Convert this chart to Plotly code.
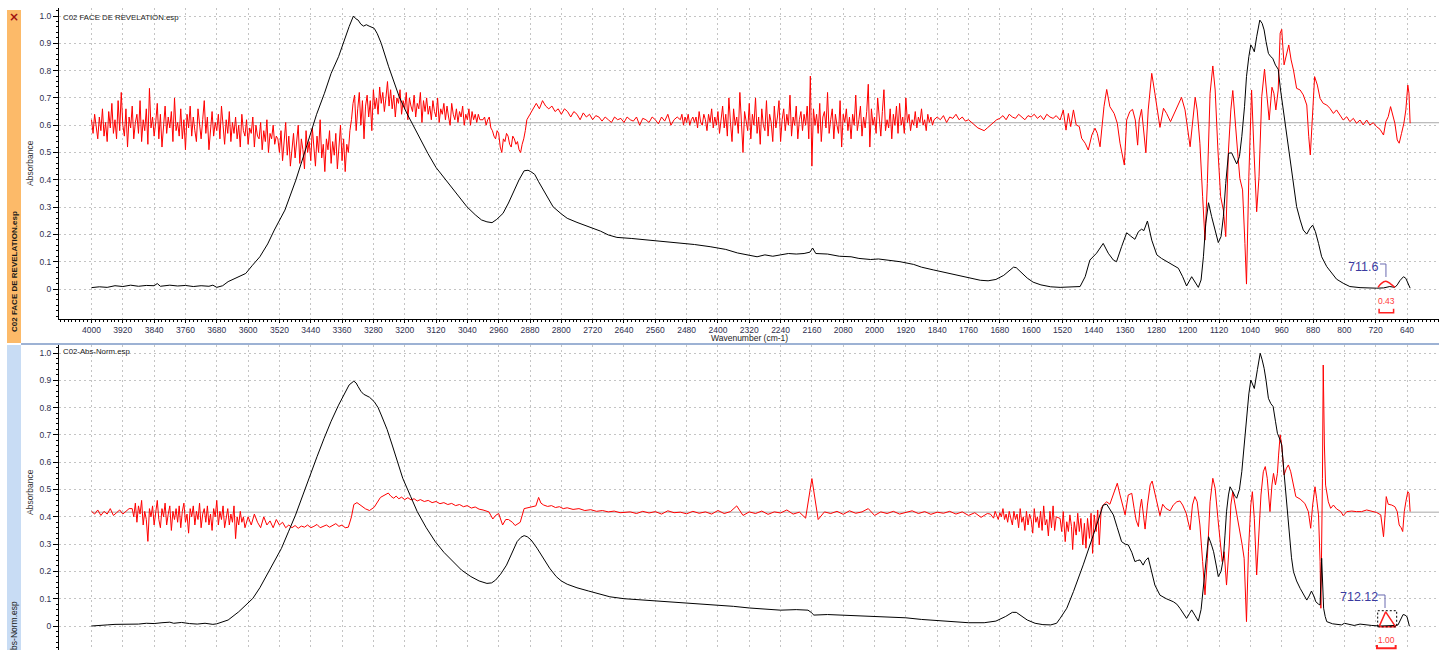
import numpy as np
import plotly.graph_objects as go

W, H = 1439, 650

# ---------------- text / ticks ----------------
panel_titles = ["C02 FACE DE REVELATION.esp", "C02-Abs-Norm.esp"]
side_titles = ["C02 FACE DE REVELATION.esp", "C02-Abs-Norm.esp"]
x_title = "Wavenumber (cm-1)"
y_title = "Absorbance"
y_tick_vals = [0, 0.1, 0.2, 0.3, 0.4, 0.5, 0.6, 0.7, 0.8, 0.9, 1.0]
y_tick_text = ["0", "0.1", "0.2", "0.3", "0.4", "0.5", "0.6", "0.7", "0.8", "0.9", "1.0"]
x_tick_vals = [4000, 3920, 3840, 3760, 3680, 3600, 3520, 3440, 3360, 3280, 3200, 3120, 3040,
               2960, 2880, 2800, 2720, 2640, 2560, 2480, 2400, 2320, 2240, 2160, 2080, 2000,
               1920, 1840, 1760, 1680, 1600, 1520, 1440, 1360, 1280, 1200, 1120, 1040, 960,
               880, 800, 720, 640]
x_tick_text = [str(v) for v in x_tick_vals]
peak_labels = ["711.6", "712.12"]
area_labels = ["0.43", "1.00"]

# ---------------- top panel: absorbance spectrum (wavenumber, absorbance) ----------------
top_abs = [
    (4000, 0.005), (3980, 0.008), (3960, 0.006), (3940, 0.012), (3920, 0.009), (3900, 0.014),
    (3880, 0.010), (3860, 0.013), (3840, 0.012), (3832, 0.020), (3824, 0.010), (3800, 0.014),
    (3780, 0.011), (3760, 0.013), (3740, 0.009), (3720, 0.012), (3700, 0.010), (3690, 0.014),
    (3680, 0.006), (3665, 0.012), (3651, 0.027), (3630, 0.040), (3606, 0.057), (3590, 0.085),
    (3570, 0.118), (3550, 0.165), (3533, 0.216), (3506, 0.289), (3478, 0.399), (3460, 0.480),
    (3442, 0.558), (3425, 0.640), (3405, 0.717), (3388, 0.790), (3369, 0.851), (3355, 0.910),
    (3342, 0.961), (3331, 1.000), (3325, 0.990), (3319, 0.985), (3312, 0.970), (3305, 0.963),
    (3298, 0.968), (3291, 0.963), (3285, 0.960), (3278, 0.955), (3270, 0.935), (3260, 0.900),
    (3241, 0.814), (3214, 0.704), (3195, 0.645), (3177, 0.595), (3160, 0.545), (3141, 0.497),
    (3120, 0.445), (3095, 0.399), (3070, 0.350), (3041, 0.301), (3020, 0.272), (3004, 0.253),
    (2990, 0.246), (2977, 0.243), (2965, 0.255), (2949, 0.277), (2935, 0.315), (2922, 0.357),
    (2908, 0.400), (2895, 0.433), (2885, 0.435), (2878, 0.430), (2868, 0.420), (2858, 0.393),
    (2840, 0.350), (2821, 0.301), (2800, 0.275), (2785, 0.259), (2760, 0.244), (2730, 0.228),
    (2700, 0.212), (2680, 0.198), (2658, 0.189), (2620, 0.185), (2580, 0.180), (2540, 0.175),
    (2500, 0.170), (2460, 0.163), (2420, 0.155), (2380, 0.145), (2350, 0.132), (2320, 0.122),
    (2300, 0.118), (2280, 0.125), (2260, 0.120), (2240, 0.125), (2220, 0.130), (2200, 0.128),
    (2180, 0.130), (2165, 0.135), (2158, 0.150), (2150, 0.130), (2120, 0.128), (2090, 0.120),
    (2060, 0.118), (2040, 0.112), (2010, 0.108), (1990, 0.110), (1960, 0.104), (1935, 0.100),
    (1900, 0.090), (1880, 0.080), (1850, 0.070), (1820, 0.060), (1790, 0.050), (1760, 0.040),
    (1730, 0.032), (1710, 0.030), (1690, 0.035), (1670, 0.050), (1655, 0.070), (1645, 0.080),
    (1638, 0.078), (1625, 0.060), (1610, 0.040), (1595, 0.025), (1575, 0.015), (1550, 0.008),
    (1526, 0.006), (1475, 0.009), (1462, 0.045), (1450, 0.106), (1433, 0.131), (1416, 0.167),
    (1403, 0.131), (1390, 0.106), (1382, 0.100), (1369, 0.155), (1356, 0.206), (1346, 0.194),
    (1335, 0.182), (1326, 0.210), (1318, 0.219), (1312, 0.214), (1303, 0.249), (1292, 0.179),
    (1279, 0.125), (1267, 0.112), (1245, 0.094), (1233, 0.084), (1224, 0.076), (1213, 0.045),
    (1203, 0.011), (1190, 0.045), (1182, 0.027), (1173, 0.006), (1166, 0.033), (1160, 0.118),
    (1154, 0.241), (1147, 0.316), (1139, 0.265), (1130, 0.216), (1122, 0.170), (1115, 0.192),
    (1109, 0.265), (1103, 0.387), (1096, 0.497), (1088, 0.499), (1082, 0.479), (1075, 0.458),
    (1068, 0.485), (1062, 0.558), (1055, 0.668), (1050, 0.778), (1044, 0.851), (1039, 0.894),
    (1034, 0.882), (1030, 0.869), (1024, 0.924), (1016, 0.985), (1010, 0.973), (1005, 0.949),
    (1000, 0.906), (994, 0.863), (988, 0.851), (983, 0.845), (976, 0.820), (969, 0.805),
    (963, 0.729), (956, 0.656), (947, 0.558), (939, 0.473), (930, 0.375), (922, 0.302),
    (913, 0.253), (905, 0.216), (896, 0.201), (888, 0.222), (881, 0.234), (874, 0.210),
    (866, 0.167), (858, 0.118), (845, 0.082), (832, 0.057), (820, 0.036), (803, 0.021),
    (786, 0.009), (760, 0.005), (735, 0.003), (718, 0.003), (700, 0.004), (684, 0.009),
    (671, 0.006), (665, 0.015), (658, 0.031), (649, 0.045), (643, 0.039), (637, 0.015),
    (632, 0.003),
]

# top panel: derivative trace, evenly sampled stretches (start wavenumber, step, values)
top_red_a = [0.62, 0.57, 0.64, 0.59, 0.55, 0.63, 0.58, 0.66, 0.56, 0.61,
             0.54, 0.65, 0.59, 0.68, 0.57, 0.62, 0.55, 0.69, 0.58, 0.72,
             0.60, 0.56, 0.66, 0.52, 0.63, 0.59, 0.67, 0.55, 0.61, 0.64,
             0.57, 0.69, 0.54, 0.62, 0.58, 0.66, 0.53, 0.735, 0.59, 0.63,
             0.56, 0.61, 0.68, 0.55, 0.64, 0.52, 0.60, 0.67, 0.57, 0.63,
             0.59, 0.65, 0.54, 0.70, 0.58, 0.61, 0.56, 0.66, 0.55, 0.62,
             0.51, 0.64, 0.59, 0.67, 0.56, 0.63, 0.58, 0.54, 0.66, 0.60,
             0.55, 0.62, 0.69, 0.57, 0.63, 0.51, 0.60, 0.65, 0.56, 0.61,
             0.58, 0.64, 0.55, 0.67, 0.60, 0.53, 0.62, 0.57, 0.65, 0.54,
             0.61, 0.57, 0.63, 0.55, 0.60, 0.52, 0.64, 0.58, 0.56, 0.62,
             0.53, 0.59, 0.57, 0.63, 0.52, 0.60, 0.56, 0.55, 0.61, 0.51,
             0.58, 0.54, 0.62, 0.50, 0.57, 0.55, 0.60, 0.53, 0.56]
top_red_b = [0.55, 0.50, 0.58, 0.47, 0.54, 0.61, 0.49, 0.56, 0.45, 0.52,
             0.57, 0.48, 0.53, 0.60, 0.46, 0.55, 0.51, 0.44, 0.58, 0.50,
             0.54, 0.47, 0.59, 0.52, 0.45, 0.56, 0.50, 0.62, 0.48, 0.53,
             0.43, 0.55, 0.51, 0.58, 0.46, 0.54, 0.49, 0.57, 0.44, 0.52,
             0.60, 0.47, 0.55, 0.43, 0.53, 0.50, 0.58]
top_red_c = [0.62, 0.68, 0.71, 0.58, 0.66, 0.72, 0.60, 0.69, 0.55, 0.67,
             0.71, 0.63, 0.69, 0.58, 0.73, 0.66, 0.70, 0.64, 0.74, 0.68,
             0.72, 0.65, 0.70, 0.76, 0.67, 0.73, 0.66, 0.71, 0.63, 0.70,
             0.68, 0.73, 0.64, 0.69, 0.66, 0.72, 0.62, 0.70, 0.67, 0.65,
             0.71, 0.63, 0.68, 0.66, 0.72, 0.61, 0.69, 0.65, 0.70, 0.64,
             0.67, 0.62, 0.69, 0.65, 0.63, 0.70, 0.61, 0.66, 0.64, 0.68,
             0.62, 0.67, 0.63, 0.60, 0.68, 0.64, 0.62, 0.66, 0.61, 0.65,
             0.63, 0.67, 0.60, 0.64, 0.62, 0.66, 0.60, 0.65, 0.62, 0.64,
             0.61, 0.64, 0.62]
top_red_d = [0.62, 0.63, 0.60, 0.62, 0.63, 0.59, 0.58, 0.56, 0.55, 0.58,
             0.57, 0.52, 0.50, 0.55, 0.54, 0.57, 0.56, 0.53, 0.52, 0.56,
             0.55, 0.53, 0.54, 0.51, 0.50, 0.53, 0.55, 0.58, 0.62]
top_red_e = [0.64, 0.66, 0.68, 0.66, 0.69, 0.67, 0.66, 0.67, 0.65, 0.66,
             0.64, 0.66, 0.65, 0.63, 0.65, 0.64, 0.62, 0.645, 0.63, 0.64,
             0.62, 0.635, 0.63, 0.615, 0.63, 0.62, 0.61, 0.63, 0.62, 0.625,
             0.61, 0.63, 0.62, 0.615, 0.63, 0.60, 0.625, 0.62, 0.61, 0.63,
             0.62, 0.605, 0.63, 0.615, 0.64, 0.60, 0.62, 0.63]
top_red_f = [0.62, 0.64, 0.60, 0.63, 0.61, 0.64, 0.60, 0.62, 0.63, 0.61,
             0.63, 0.59, 0.65, 0.61, 0.60, 0.64, 0.62, 0.58, 0.64, 0.61,
             0.66, 0.59, 0.63, 0.60, 0.65, 0.57, 0.62, 0.67, 0.59, 0.64,
             0.56, 0.70, 0.61, 0.54, 0.66, 0.60, 0.63, 0.57, 0.72, 0.59,
             0.50, 0.65, 0.61, 0.58, 0.68, 0.55, 0.64, 0.60, 0.70, 0.57,
             0.63, 0.53, 0.66, 0.60, 0.58, 0.69, 0.56, 0.64, 0.61, 0.54,
             0.67, 0.59, 0.63, 0.69, 0.54, 0.62, 0.66, 0.58, 0.64, 0.60,
             0.71, 0.56, 0.63, 0.60, 0.67, 0.55, 0.62, 0.65, 0.58, 0.64,
             0.60, 0.67, 0.55, 0.78, 0.45, 0.66, 0.60, 0.64, 0.57, 0.68,
             0.54, 0.63, 0.65, 0.59, 0.72, 0.57, 0.62, 0.66, 0.55, 0.64,
             0.60, 0.57, 0.69, 0.52, 0.64, 0.61, 0.66, 0.58, 0.63, 0.55,
             0.64, 0.60, 0.71, 0.58, 0.62, 0.67, 0.56, 0.63, 0.59, 0.65,
             0.75, 0.52, 0.66, 0.60, 0.63, 0.57, 0.70, 0.61, 0.56, 0.65,
             0.73, 0.58, 0.62, 0.59, 0.66, 0.55, 0.64, 0.60, 0.67, 0.57,
             0.68, 0.60, 0.63, 0.57, 0.70, 0.61, 0.64, 0.58, 0.62, 0.60,
             0.65, 0.59, 0.63, 0.61, 0.66, 0.60, 0.62, 0.58, 0.64, 0.61,
             0.63, 0.60, 0.62]
top_red_g = [0.63, 0.62, 0.635, 0.61, 0.63, 0.625, 0.64, 0.62, 0.63, 0.615,
             0.62, 0.61, 0.60, 0.59, 0.585, 0.58, 0.59, 0.60, 0.61, 0.62,
             0.625, 0.635, 0.62, 0.64, 0.63, 0.625, 0.64, 0.63, 0.62, 0.635,
             0.63, 0.64, 0.625, 0.635, 0.62, 0.64, 0.63, 0.625, 0.635]
top_red_stretches = [(4000, 4, top_red_a), (3524, 4, top_red_b), (3336, 4, top_red_c),
                     (3000, 4, top_red_d), (2880, 8, top_red_e), (2496, 4, top_red_f),
                     (1840, 8, top_red_g)]
top_red_fingerprint = [
    (1526, 0.619), (1518, 0.656), (1511, 0.582), (1505, 0.643), (1499, 0.595), (1492, 0.656),
    (1485, 0.601), (1477, 0.595), (1471, 0.552), (1462, 0.534), (1454, 0.509), (1445, 0.564),
    (1437, 0.589), (1431, 0.570), (1424, 0.521), (1414, 0.668), (1407, 0.731), (1399, 0.668),
    (1388, 0.643), (1380, 0.607), (1373, 0.534), (1366, 0.485), (1362, 0.454), (1356, 0.619),
    (1348, 0.650), (1341, 0.658), (1334, 0.619), (1328, 0.527), (1324, 0.619), (1318, 0.658),
    (1312, 0.558), (1307, 0.499), (1301, 0.656), (1292, 0.790), (1284, 0.717), (1278, 0.656),
    (1271, 0.592), (1262, 0.662), (1254, 0.643), (1244, 0.613), (1233, 0.650), (1224, 0.674),
    (1216, 0.702), (1207, 0.656), (1199, 0.582), (1194, 0.521), (1187, 0.619), (1181, 0.702),
    (1176, 0.656), (1169, 0.534), (1162, 0.338), (1156, 0.179), (1150, 0.387), (1143, 0.717),
    (1136, 0.817), (1130, 0.729), (1123, 0.509), (1116, 0.338), (1109, 0.289), (1103, 0.192),
    (1096, 0.509), (1090, 0.656), (1085, 0.727), (1079, 0.631), (1073, 0.509), (1067, 0.405),
    (1060, 0.363), (1054, 0.167), (1050, 0.018), (1044, 0.411), (1037, 0.729), (1031, 0.509),
    (1024, 0.283), (1018, 0.411), (1011, 0.705), (1004, 0.805), (998, 0.717), (992, 0.619),
    (985, 0.739), (980, 0.717), (975, 0.656), (969, 0.729), (964, 0.937), (960, 0.951),
    (954, 0.821), (947, 0.863), (942, 0.894), (936, 0.839), (930, 0.802), (922, 0.735),
    (913, 0.729), (905, 0.711), (896, 0.674), (891, 0.558), (887, 0.491), (882, 0.619),
    (876, 0.778), (869, 0.747), (862, 0.698), (854, 0.680), (845, 0.674), (837, 0.662),
    (828, 0.643), (820, 0.656), (811, 0.634), (803, 0.619), (794, 0.631), (786, 0.613),
    (777, 0.625), (769, 0.607), (760, 0.619), (752, 0.601), (743, 0.619), (735, 0.601),
    (726, 0.609), (718, 0.595), (709, 0.585), (700, 0.564), (694, 0.613), (688, 0.631),
    (682, 0.668), (677, 0.637), (671, 0.607), (665, 0.546), (660, 0.534), (654, 0.570),
    (648, 0.607), (643, 0.656), (638, 0.747), (635, 0.717), (632, 0.607),
]
top_red_zero = 0.609

# ---------------- bottom panel ----------------
bot_abs = [
    (4000, 0.000), (3980, 0.003), (3960, 0.004), (3940, 0.006), (3920, 0.006), (3900, 0.008),
    (3880, 0.007), (3860, 0.010), (3840, 0.009), (3820, 0.012), (3800, 0.014), (3790, 0.010),
    (3770, 0.013), (3750, 0.009), (3730, 0.007), (3710, 0.010), (3690, 0.006), (3680, 0.008),
    (3665, 0.014), (3651, 0.022), (3624, 0.052), (3606, 0.075), (3588, 0.101), (3570, 0.140),
    (3552, 0.187), (3533, 0.235), (3515, 0.284), (3497, 0.345), (3479, 0.406), (3460, 0.480),
    (3442, 0.553), (3424, 0.620), (3406, 0.687), (3388, 0.750), (3369, 0.809), (3355, 0.850),
    (3342, 0.883), (3330, 0.897), (3324, 0.890), (3319, 0.877), (3312, 0.860), (3305, 0.849),
    (3290, 0.838), (3278, 0.822), (3268, 0.800), (3260, 0.773), (3245, 0.720), (3232, 0.663),
    (3218, 0.600), (3205, 0.541), (3185, 0.475), (3168, 0.419), (3145, 0.360), (3122, 0.309),
    (3100, 0.270), (3077, 0.236), (3055, 0.205), (3031, 0.181), (3010, 0.165), (2990, 0.156),
    (2978, 0.158), (2968, 0.168), (2955, 0.190), (2940, 0.223), (2925, 0.270), (2913, 0.309),
    (2903, 0.325), (2895, 0.331), (2887, 0.327), (2877, 0.315), (2862, 0.285), (2845, 0.248),
    (2830, 0.212), (2813, 0.181), (2800, 0.165), (2785, 0.153), (2760, 0.140), (2730, 0.128),
    (2700, 0.117), (2676, 0.107), (2640, 0.100), (2600, 0.096), (2560, 0.092), (2520, 0.090),
    (2480, 0.086), (2440, 0.082), (2400, 0.078), (2360, 0.072), (2320, 0.066), (2280, 0.062),
    (2240, 0.058), (2200, 0.060), (2170, 0.058), (2162, 0.050), (2155, 0.040), (2120, 0.042),
    (2080, 0.040), (2040, 0.038), (2000, 0.036), (1960, 0.032), (1920, 0.030), (1880, 0.024),
    (1840, 0.020), (1800, 0.015), (1760, 0.012), (1720, 0.012), (1690, 0.018), (1665, 0.035),
    (1648, 0.050), (1638, 0.050), (1625, 0.038), (1610, 0.022), (1590, 0.010), (1570, 0.005),
    (1550, 0.004), (1535, 0.010), (1526, 0.028), (1509, 0.065), (1492, 0.126), (1467, 0.224),
    (1441, 0.334), (1416, 0.443), (1407, 0.446), (1400, 0.430), (1390, 0.407), (1380, 0.360),
    (1369, 0.309), (1360, 0.300), (1352, 0.297), (1343, 0.270), (1335, 0.236), (1328, 0.240),
    (1322, 0.242), (1314, 0.223), (1308, 0.240), (1301, 0.250), (1292, 0.200), (1284, 0.150),
    (1271, 0.113), (1255, 0.100), (1237, 0.089), (1228, 0.080), (1220, 0.065), (1210, 0.045),
    (1203, 0.028), (1196, 0.045), (1190, 0.059), (1182, 0.040), (1173, 0.018), (1166, 0.060),
    (1160, 0.150), (1153, 0.260), (1147, 0.327), (1140, 0.300), (1134, 0.272), (1127, 0.220),
    (1122, 0.181), (1115, 0.200), (1109, 0.248), (1105, 0.330), (1101, 0.419), (1096, 0.480),
    (1092, 0.510), (1088, 0.500), (1084, 0.486), (1079, 0.475), (1075, 0.468), (1068, 0.500),
    (1062, 0.565), (1055, 0.680), (1049, 0.785), (1044, 0.850), (1039, 0.901), (1034, 0.885),
    (1030, 0.870), (1022, 0.940), (1015, 0.999), (1010, 0.975), (1005, 0.944), (1000, 0.900),
    (994, 0.834), (988, 0.815), (982, 0.804), (976, 0.750), (971, 0.706), (965, 0.685),
    (960, 0.663), (954, 0.560), (947, 0.443), (940, 0.330), (935, 0.250), (930, 0.199),
    (922, 0.165), (913, 0.138), (905, 0.115), (896, 0.095), (890, 0.110), (884, 0.128),
    (878, 0.110), (873, 0.089), (866, 0.080), (862, 0.077), (858, 0.248), (855, 0.150),
    (853, 0.065), (849, 0.035), (845, 0.016), (830, 0.008), (815, 0.006), (807, 0.004),
    (800, 0.010), (790, 0.006), (775, 0.002), (760, 0.007), (745, 0.004), (730, 0.002),
    (709, 0.000), (690, 0.000), (670, 0.002), (663, 0.004), (656, 0.025), (650, 0.042),
    (645, 0.040), (640, 0.034), (634, 0.000),
]

bot_red_a = [0.42, 0.41, 0.425, 0.405, 0.42, 0.41, 0.43, 0.405, 0.415, 0.425, 0.41, 0.42, 0.43]
bot_red_b = [0.43, 0.40, 0.45, 0.38, 0.44, 0.41, 0.46, 0.37, 0.42, 0.39,
             0.31, 0.43, 0.40, 0.44, 0.37, 0.42, 0.46, 0.39, 0.36, 0.43,
             0.40, 0.45, 0.37, 0.41, 0.44, 0.35, 0.42, 0.39, 0.43, 0.38,
             0.44, 0.36, 0.42, 0.45, 0.38, 0.41, 0.34, 0.43, 0.40, 0.44,
             0.37, 0.42, 0.39, 0.45, 0.36, 0.41, 0.43, 0.38, 0.44, 0.37,
             0.41, 0.35, 0.43, 0.40, 0.46, 0.37, 0.42, 0.39, 0.44, 0.36,
             0.40, 0.43, 0.37, 0.41, 0.38, 0.44, 0.32, 0.40, 0.37, 0.42,
             0.38, 0.40, 0.36]
bot_red_c = [0.40, 0.37, 0.41, 0.38, 0.36, 0.40, 0.37, 0.385, 0.36, 0.39, 0.37, 0.38, 0.36]
bot_red_d = [0.37, 0.36, 0.368, 0.358, 0.366, 0.362, 0.37, 0.36, 0.365, 0.372,
             0.36, 0.366, 0.37, 0.362, 0.368, 0.375, 0.365, 0.37, 0.36]
bot_red_f = [0.418, 0.412, 0.42, 0.414, 0.419, 0.41, 0.422, 0.415, 0.417, 0.411,
             0.42, 0.413, 0.418, 0.41, 0.423, 0.412, 0.419, 0.44, 0.405, 0.418,
             0.412, 0.421, 0.409, 0.418, 0.414, 0.425, 0.41, 0.417, 0.395, 0.54,
             0.39, 0.418, 0.412, 0.42, 0.409, 0.422, 0.413, 0.418, 0.43, 0.405,
             0.418, 0.412, 0.42, 0.41, 0.416, 0.422, 0.412, 0.419, 0.409, 0.417,
             0.413, 0.42, 0.41, 0.418, 0.405, 0.415, 0.398, 0.412]
bot_red_g = [0.41, 0.40, 0.395, 0.42, 0.40, 0.39, 0.415, 0.40, 0.43, 0.39,
             0.41, 0.38, 0.42, 0.40, 0.37, 0.42, 0.39, 0.41, 0.36, 0.43,
             0.38, 0.40, 0.35, 0.42, 0.37, 0.41, 0.39, 0.34, 0.43, 0.38,
             0.40, 0.36, 0.42, 0.35, 0.44, 0.37, 0.39, 0.33, 0.42, 0.36,
             0.44, 0.35, 0.40]
bot_red_mid = [
    (3344, 0.362), (3336, 0.400), (3330, 0.445), (3322, 0.452), (3312, 0.440), (3300, 0.429),
    (3290, 0.423), (3278, 0.435), (3262, 0.471), (3250, 0.480), (3242, 0.487), (3235, 0.475),
    (3228, 0.468), (3222, 0.476), (3215, 0.466), (3208, 0.472), (3200, 0.463), (3192, 0.470),
    (3184, 0.462), (3176, 0.466), (3168, 0.458), (3160, 0.463), (3150, 0.456), (3140, 0.460),
    (3130, 0.452), (3120, 0.456), (3110, 0.448), (3100, 0.452), (3090, 0.445), (3080, 0.449),
    (3070, 0.441), (3060, 0.445), (3050, 0.437), (3040, 0.441), (3030, 0.432), (3020, 0.436),
    (3010, 0.428), (3000, 0.425), (2985, 0.418), (2975, 0.392), (2968, 0.405), (2960, 0.412),
    (2950, 0.370), (2942, 0.390), (2935, 0.390), (2925, 0.380), (2918, 0.368), (2905, 0.380),
    (2895, 0.430), (2880, 0.435), (2865, 0.440), (2858, 0.471), (2852, 0.450), (2845, 0.443),
    (2835, 0.438), (2825, 0.441), (2815, 0.434), (2805, 0.437), (2795, 0.430), (2785, 0.433),
    (2770, 0.427), (2755, 0.430), (2740, 0.423), (2725, 0.426), (2710, 0.420), (2695, 0.423),
    (2680, 0.418), (2665, 0.421), (2650, 0.415), (2640, 0.416),
]
bot_red_fingerprint = [
    (1526, 0.394), (1522, 0.346), (1518, 0.419), (1513, 0.309), (1509, 0.382), (1505, 0.346),
    (1501, 0.407), (1497, 0.364), (1494, 0.280), (1490, 0.382), (1485, 0.333), (1481, 0.413),
    (1477, 0.346), (1473, 0.394), (1468, 0.297), (1464, 0.376), (1460, 0.285), (1456, 0.394),
    (1451, 0.321), (1447, 0.413), (1443, 0.266), (1439, 0.407), (1434, 0.346), (1430, 0.425),
    (1426, 0.297), (1421, 0.431), (1416, 0.443), (1407, 0.455), (1399, 0.446), (1390, 0.480),
    (1380, 0.523), (1373, 0.480), (1367, 0.449), (1360, 0.407), (1352, 0.480), (1343, 0.486),
    (1337, 0.431), (1332, 0.388), (1326, 0.364), (1322, 0.431), (1318, 0.465), (1314, 0.419),
    (1309, 0.355), (1303, 0.443), (1296, 0.517), (1291, 0.531), (1285, 0.492), (1278, 0.443),
    (1271, 0.404), (1264, 0.446), (1256, 0.431), (1245, 0.422), (1237, 0.443), (1228, 0.455),
    (1220, 0.458), (1213, 0.443), (1204, 0.413), (1199, 0.382), (1194, 0.352), (1188, 0.443),
    (1182, 0.474), (1176, 0.455), (1169, 0.370), (1162, 0.236), (1156, 0.114), (1150, 0.248),
    (1143, 0.455), (1136, 0.541), (1130, 0.504), (1123, 0.394), (1116, 0.297), (1112, 0.236),
    (1107, 0.272), (1101, 0.150), (1094, 0.297), (1090, 0.443), (1085, 0.492), (1079, 0.443),
    (1073, 0.407), (1067, 0.346), (1061, 0.297), (1056, 0.248), (1053, 0.150), (1050, 0.016),
    (1045, 0.272), (1039, 0.443), (1035, 0.492), (1030, 0.394), (1024, 0.187), (1019, 0.346),
    (1013, 0.480), (1007, 0.565), (1002, 0.584), (997, 0.541), (990, 0.419), (985, 0.517),
    (981, 0.559), (976, 0.517), (971, 0.559), (968, 0.626), (964, 0.700), (960, 0.663),
    (954, 0.553), (948, 0.578), (943, 0.590), (937, 0.565), (930, 0.517), (924, 0.474),
    (913, 0.465), (901, 0.449), (892, 0.419), (886, 0.358), (881, 0.443), (875, 0.510),
    (871, 0.468), (866, 0.407), (862, 0.236), (860, 0.065), (856, 0.541), (854, 0.956),
    (851, 0.663), (848, 0.516), (841, 0.455), (835, 0.431), (828, 0.443), (820, 0.429),
    (809, 0.419), (803, 0.404), (794, 0.419), (781, 0.421), (769, 0.419), (756, 0.419),
    (743, 0.425), (730, 0.419), (718, 0.416), (707, 0.407), (700, 0.327), (696, 0.407),
    (693, 0.474), (688, 0.446), (679, 0.443), (671, 0.437), (665, 0.419), (660, 0.370),
    (655, 0.360), (651, 0.346), (647, 0.419), (643, 0.455), (638, 0.492), (635, 0.486),
    (632, 0.419),
]
bot_red_stretches_head = [(4000, 8, bot_red_a), (3896, 4, bot_red_b), (3600, 8, bot_red_c),
                          (3496, 8, bot_red_d)]
bot_red_stretches_tail = [(2624, 16, bot_red_f), (1704, 4, bot_red_g)]
bot_red_zero = 0.417

# integration markers (wavenumber / absorbance units)
top_hump = [(714, 0.006), (706, 0.020), (694, 0.028), (683, 0.020), (671, 0.006)]
bot_triangle = [(711.6, -0.003), (694.5, 0.052), (669, -0.003), (711.6, -0.003)]

# ---------------- helpers ----------------
def unpack(pairs):
    return [p[0] for p in pairs], [p[1] for p in pairs]

def stretch(start, step, vals):
    return [start - step * i for i in range(len(vals))], list(vals)

def assemble(parts):
    xs, ys = [], []
    for kind, obj in parts:
        if kind == "s":
            x, y = stretch(*obj)
        else:
            x, y = unpack(obj)
        xs += x
        ys += y
    return xs, ys

X_RANGE = [4083.0, 558.3]
TOP_Y_RANGE = [-0.1099, 1.0293]
BOT_Y_RANGE = [-0.0879, 1.0293]
FONT = "Liberation Sans, Arial, sans-serif"
RED = "#FF0000"
GRID = "#C4C4C4"

fig = go.Figure()

top_red_x, top_red_y = assemble([("s", s) for s in top_red_stretches] + [("p", top_red_fingerprint)])
bot_red_x, bot_red_y = assemble([("s", s) for s in bot_red_stretches_head] + [("p", bot_red_mid)]
                                + [("s", s) for s in bot_red_stretches_tail] + [("p", bot_red_fingerprint)])
tx, ty = unpack(top_abs)
bx, by = unpack(bot_abs)

fig.add_trace(go.Scatter(x=top_red_x, y=top_red_y, mode="lines", line=dict(color=RED, width=1),
                         xaxis="x", yaxis="y", hoverinfo="skip"))
fig.add_trace(go.Scatter(x=tx, y=ty, mode="lines", line=dict(color="#000000", width=1),
                         xaxis="x", yaxis="y", hoverinfo="skip"))
fig.add_trace(go.Scatter(x=bot_red_x, y=bot_red_y, mode="lines", line=dict(color=RED, width=1),
                         xaxis="x2", yaxis="y2", hoverinfo="skip"))
fig.add_trace(go.Scatter(x=bx, y=by, mode="lines", line=dict(color="#000000", width=1),
                         xaxis="x2", yaxis="y2", hoverinfo="skip"))

hx, hy = unpack(top_hump)
fig.add_trace(go.Scatter(x=hx, y=hy, mode="lines", line=dict(color="#FF2020", width=1.5, shape="spline"),
                         xaxis="x", yaxis="y", hoverinfo="skip"))
trx, tr_y = unpack(bot_triangle)
fig.add_trace(go.Scatter(x=trx, y=tr_y, mode="lines", line=dict(color="#FF2020", width=1.5),
                         xaxis="x2", yaxis="y2", hoverinfo="skip"))

def px_x(px):
    return px / W

def px_y(py):
    return 1 - py / H

x_dom = [59 / W, 1.0]
top_dom = [px_y(319), px_y(8)]
bot_dom = [0.0, px_y(345)]

axis_font = dict(family=FONT, size=8.5, color="#2F2F4F")

common_x = dict(domain=x_dom, range=X_RANGE, tickmode="array", tickvals=x_tick_vals,
                ticktext=x_tick_text, automargin=False,
                showgrid=True, gridcolor=GRID, griddash="2px,3px", gridwidth=1, zeroline=False)
common_y = dict(tickmode="array", tickvals=y_tick_vals, ticktext=y_tick_text, automargin=False,
                showgrid=True, gridcolor=GRID, griddash="2px,3px", gridwidth=1, zeroline=False,
                showline=True, linecolor="#000000", linewidth=1, ticks="outside", ticklen=5,
                tickcolor="#000000", tickfont=axis_font,
                minor=dict(ticks="outside", ticklen=2, tickcolor="#000000", tickmode="linear",
                           tick0=0, dtick=0.02, showgrid=False))

fig.update_layout(
    width=W, height=H, autosize=False,
    margin=dict(l=0, r=0, t=0, b=0, pad=0),
    paper_bgcolor="white", plot_bgcolor="white",
    showlegend=False,
    xaxis=dict(**common_x, anchor="y", showline=True, linecolor="#000000", linewidth=1,
               ticks="outside", ticklen=3, tickcolor="#000000", tickfont=axis_font,
               minor=dict(ticks="outside", ticklen=2, tickcolor="#000000", tickmode="linear",
                          tick0=0, dtick=10, showgrid=False)),
    yaxis=dict(**common_y, domain=top_dom, range=TOP_Y_RANGE, anchor="x"),
    xaxis2=dict(**common_x, anchor="y2", showline=False, showticklabels=False, ticks=""),
    yaxis2=dict(**common_y, domain=bot_dom, range=BOT_Y_RANGE, anchor="x2"),
)

shapes = []
# side strips
shapes.append(dict(type="rect", xref="paper", yref="paper", x0=px_x(7), x1=px_x(21),
                   y0=px_y(343), y1=px_y(10), fillcolor="#FCBA69", line=dict(width=0), layer="below"))
shapes.append(dict(type="rect", xref="paper", yref="paper", x0=px_x(7), x1=px_x(21),
                   y0=px_y(650), y1=px_y(345), fillcolor="#C8DCF4", line=dict(width=0), layer="below"))
shapes.append(dict(type="line", xref="paper", yref="paper", x0=px_x(21), x1=1.0,
                   y0=px_y(344), y1=px_y(344), line=dict(color="#9DB2D4", width=2)))
# zero lines of derivative traces
shapes.append(dict(type="line", xref="x", yref="y", x0=4000, x1=X_RANGE[1], y0=top_red_zero,
                   y1=top_red_zero, line=dict(color="#A8A8A8", width=1), layer="below"))
shapes.append(dict(type="line", xref="x2", yref="y2", x0=4000, x1=X_RANGE[1], y0=bot_red_zero,
                   y1=bot_red_zero, line=dict(color="#A8A8A8", width=1), layer="below"))
# peak label brackets
shapes.append(dict(type="path", xref="x", yref="y",
                   path="M 709.1,0.0916 L 693.8,0.0916 L 693.8,0.044",
                   line=dict(color="#6A6AB0", width=1)))
shapes.append(dict(type="path", xref="x2", yref="y2",
                   path="M 714.1,0.1136 L 696.2,0.1136 L 696.2,0.0659",
                   line=dict(color="#6A6AB0", width=1)))
# dashed box bottom
shapes.append(dict(type="rect", xref="x2", yref="y2", x0=714.9, x1=666.4, y0=-0.003, y1=0.056,
                   line=dict(color="#000000", width=1, dash="2px,2px")))
# red area brackets
shapes.append(dict(type="path", xref="x", yref="y",
                   path="M 711.3,-0.0722 L 711.3,-0.0868 L 674.3,-0.0868 L 674.3,-0.0722",
                   line=dict(color="#FF2020", width=1.5)))
shapes.append(dict(type="path", xref="x2", yref="y2",
                   path="M 716.7,-0.0696 L 716.7,-0.0817 L 669,-0.0817 L 669,-0.0696",
                   line=dict(color="#FF2020", width=2)))
fig.update_layout(shapes=shapes)

ann = []
ann.append(dict(xref="paper", yref="paper", x=px_x(14), y=px_y(17), text="<b>×</b>",
                showarrow=False, font=dict(family="DejaVu Sans", size=12, color="#A01010"),
                xanchor="center", yanchor="middle"))
ann.append(dict(xref="paper", yref="paper", x=px_x(14), y=px_y(272), text="<b>" + side_titles[0] + "</b>",
                textangle=-90, showarrow=False, font=dict(family=FONT, size=8, color="#1A1A1A"),
                xanchor="center", yanchor="middle"))
ann.append(dict(xref="paper", yref="paper", x=px_x(14), y=px_y(638), text=side_titles[1],
                textangle=-90, showarrow=False, font=dict(family=FONT, size=8.5, color="#1A1A1A"),
                xanchor="center", yanchor="middle"))
ann.append(dict(xref="paper", yref="paper", x=px_x(61), y=px_y(17), text=panel_titles[0],
                showarrow=False, font=dict(family=FONT, size=7.8, color="#222222"),
                xanchor="left", yanchor="middle"))
ann.append(dict(xref="paper", yref="paper", x=px_x(61), y=px_y(351), text=panel_titles[1],
                showarrow=False, font=dict(family=FONT, size=7.8, color="#222222"),
                xanchor="left", yanchor="middle"))
for yc in (163, 492):
    ann.append(dict(xref="paper", yref="paper", x=px_x(30), y=px_y(yc), text=y_title,
                    textangle=-90, showarrow=False, font=dict(family=FONT, size=8.5, color="#333333"),
                    xanchor="center", yanchor="middle"))
ann.append(dict(xref="paper", yref="paper", x=px_x(749), y=px_y(338), text=x_title,
                showarrow=False, font=dict(family=FONT, size=8.5, color="#222222"),
                xanchor="center", yanchor="middle"))
ann.append(dict(xref="x", yref="y", x=752.4, y=0.0806, text=peak_labels[0], showarrow=False,
                font=dict(family=FONT, size=12.5, color="#3A3AA0"), xanchor="center", yanchor="middle"))
ann.append(dict(xref="x", yref="y", x=692.5, y=-0.0429, text=area_labels[0], showarrow=False,
                font=dict(family=FONT, size=8.5, color="#FF3B3B"), xanchor="center", yanchor="middle"))
ann.append(dict(xref="x2", yref="y2", x=763.4, y=0.105, text=peak_labels[1], showarrow=False,
                font=dict(family=FONT, size=12.5, color="#3A3AA0"), xanchor="center", yanchor="middle"))
ann.append(dict(xref="x2", yref="y2", x=691.8, y=-0.0513, text=area_labels[1], showarrow=False,
                font=dict(family=FONT, size=8.5, color="#FF3B3B"), xanchor="center", yanchor="middle"))
fig.update_layout(annotations=ann)

fig.write_html("out.html")
